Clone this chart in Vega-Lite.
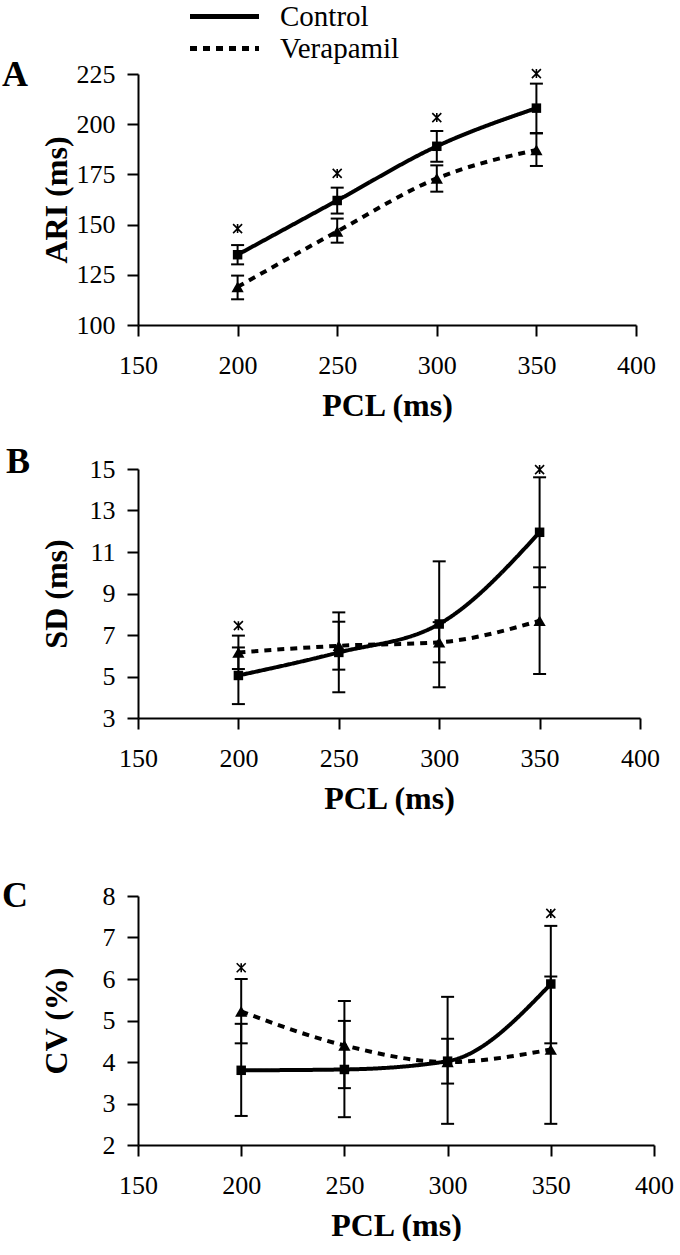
{
  "$schema": "https://vega.github.io/schema/vega-lite/v6.json",
  "background": "white",
  "padding": {"left": 2, "top": 2, "right": 0, "bottom": 0},
  "spacing": 23,
  "config": {
    "view": {"stroke": null},
    "font": "Liberation Serif",
    "text": {"font": "Liberation Serif"},
    "axis": {
      "grid": false,
      "domainColor": "black",
      "domainWidth": 2,
      "tickColor": "black",
      "tickWidth": 2,
      "tickSize": 11,
      "labelFont": "Liberation Serif",
      "labelFontSize": 26,
      "labelColor": "black",
      "titleFont": "Liberation Serif",
      "titleFontSize": 32,
      "titleFontWeight": "bold",
      "titleColor": "black"
    },
    "axisX": {"labelPadding": 16, "titlePadding": 12, "labelFlush": false, "labelOverlap": false},
    "axisY": {"labelPadding": 12},
    "legend": {"labelFont": "Liberation Serif"},
    "title": {"font": "Liberation Serif", "fontSize": 36, "fontWeight": "bold", "color": "black"}
  },
  "datasets": {
    "ari": [
      {"pcl": 200, "series": "Control", "mean": 135, "lo": 130.2, "hi": 139.8},
      {"pcl": 250, "series": "Control", "mean": 162, "lo": 155.5, "hi": 168.4},
      {"pcl": 300, "series": "Control", "mean": 189, "lo": 181.3, "hi": 196.6},
      {"pcl": 350, "series": "Control", "mean": 208, "lo": 195.6, "hi": 220.2},
      {"pcl": 200, "series": "Verapamil", "mean": 119, "lo": 112.8, "hi": 124.6},
      {"pcl": 250, "series": "Verapamil", "mean": 146.6, "lo": 141, "hi": 153},
      {"pcl": 300, "series": "Verapamil", "mean": 173, "lo": 166.4, "hi": 179.5},
      {"pcl": 350, "series": "Verapamil", "mean": 187.2, "lo": 179.2, "hi": 195.4}
    ],
    "ari_sig": [
      {"pcl": 200, "sig": 148},
      {"pcl": 250, "sig": 175.5},
      {"pcl": 300, "sig": 203.3},
      {"pcl": 350, "sig": 225.2}
    ],
    "sd": [
      {"pcl": 200, "series": "Control", "mean": 5.05, "lo": 3.67, "hi": 6.4},
      {"pcl": 250, "series": "Control", "mean": 6.16, "lo": 4.24, "hi": 8.09},
      {"pcl": 300, "series": "Control", "mean": 7.53, "lo": 4.48, "hi": 10.55},
      {"pcl": 350, "series": "Control", "mean": 11.95, "lo": 9.3, "hi": 14.6},
      {"pcl": 200, "series": "Verapamil", "mean": 6.16, "lo": 5.36, "hi": 6.97},
      {"pcl": 250, "series": "Verapamil", "mean": 6.48, "lo": 5.33, "hi": 7.64},
      {"pcl": 300, "series": "Verapamil", "mean": 6.65, "lo": 5.68, "hi": 7.62},
      {"pcl": 350, "series": "Verapamil", "mean": 7.69, "lo": 5.12, "hi": 10.26}
    ],
    "sd_sig": [
      {"pcl": 200, "sig": 7.45},
      {"pcl": 350, "sig": 14.97}
    ],
    "cv": [
      {"pcl": 200, "series": "Control", "mean": 3.8, "lo": 2.7, "hi": 4.92},
      {"pcl": 250, "series": "Control", "mean": 3.82, "lo": 2.67, "hi": 4.99},
      {"pcl": 300, "series": "Control", "mean": 4.02, "lo": 2.51, "hi": 5.57},
      {"pcl": 350, "series": "Control", "mean": 5.88, "lo": 4.45, "hi": 7.28},
      {"pcl": 200, "series": "Verapamil", "mean": 5.22, "lo": 4.45, "hi": 6.0},
      {"pcl": 250, "series": "Verapamil", "mean": 4.4, "lo": 3.37, "hi": 5.47},
      {"pcl": 300, "series": "Verapamil", "mean": 4.0, "lo": 3.48, "hi": 4.56},
      {"pcl": 350, "series": "Verapamil", "mean": 4.3, "lo": 2.51, "hi": 6.06}
    ],
    "cv_sig": [
      {"pcl": 200, "sig": 6.27},
      {"pcl": 350, "sig": 7.58}
    ]
  },
  "resolve": {"scale": {"strokeDash": "independent"}, "legend": {"strokeDash": "independent"}},
  "vconcat": [
    {
      "width": 498,
      "height": 251,
      "title": {"text": "A", "orient": "left", "frame": "group", "anchor": "end", "angle": 0, "baseline": "middle", "offset": -14, "dy": 1},
      "layer": [
        {
          "data": {"name": "ari"},
          "mark": {"type": "line", "interpolate": "monotone", "strokeWidth": 4, "color": "black"},
          "encoding": {
            "x": {"field": "pcl", "type": "quantitative", "title": "PCL (ms)", "scale": {"domain": [150, 400], "nice": false, "zero": false}, "axis": {"values": [150, 200, 250, 300, 350, 400]}},
            "y": {"field": "mean", "type": "quantitative", "title": "ARI (ms)", "scale": {"domain": [100, 225], "nice": false, "zero": false}, "axis": {"values": [100, 125, 150, 175, 200, 225], "titlePadding": 3}},
            "strokeDash": {"field": "series", "type": "nominal", "scale": {"domain": ["Control", "Verapamil"], "range": [[1, 0], [7, 6]]},
              "legend": {"title": null, "orient": "none", "legendX": 72, "legendY": -72, "symbolType": "M-3,0H3", "symbolSize": 529, "symbolStrokeWidth": 5, "symbolStrokeColor": "black", "symbolFillColor": "transparent", "labelFont": "Liberation Serif", "labelFontSize": 29, "labelColor": "black", "labelOffset": 41, "rowPadding": 2}}
          }
        },
        {
          "data": {"name": "ari"},
          "mark": {"type": "rule", "color": "black", "strokeWidth": 2},
          "encoding": {
            "x": {"field": "pcl", "type": "quantitative", "title": "PCL (ms)"},
            "y": {"field": "lo", "type": "quantitative", "title": "ARI (ms)"},
            "y2": {"field": "hi"}
          }
        },
        {
          "data": {"name": "ari"},
          "mark": {"type": "tick", "orient": "horizontal", "color": "black", "thickness": 2, "size": 13, "opacity": 1},
          "encoding": {
            "x": {"field": "pcl", "type": "quantitative", "title": "PCL (ms)"},
            "y": {"field": "lo", "type": "quantitative", "title": "ARI (ms)"}
          }
        },
        {
          "data": {"name": "ari"},
          "mark": {"type": "tick", "orient": "horizontal", "color": "black", "thickness": 2, "size": 13, "opacity": 1},
          "encoding": {
            "x": {"field": "pcl", "type": "quantitative", "title": "PCL (ms)"},
            "y": {"field": "hi", "type": "quantitative", "title": "ARI (ms)"}
          }
        },
        {
          "data": {"name": "ari"},
          "transform": [{"filter": "datum.series === 'Control'"}],
          "mark": {"type": "point", "shape": "square", "filled": true, "color": "black", "opacity": 1, "size": 90},
          "encoding": {
            "x": {"field": "pcl", "type": "quantitative", "title": "PCL (ms)"},
            "y": {"field": "mean", "type": "quantitative", "title": "ARI (ms)"}
          }
        },
        {
          "data": {"name": "ari"},
          "transform": [{"filter": "datum.series === 'Verapamil'"}],
          "mark": {"type": "point", "shape": "triangle-up", "filled": true, "color": "black", "opacity": 1, "size": 150},
          "encoding": {
            "x": {"field": "pcl", "type": "quantitative", "title": "PCL (ms)"},
            "y": {"field": "mean", "type": "quantitative", "title": "ARI (ms)"}
          }
        },
        {
          "data": {"name": "ari_sig"},
          "mark": {"type": "point", "shape": "M-1,-1L1,1M-1,1L1,-1M0,-1L0,1", "filled": false, "stroke": "black", "strokeWidth": 1.6, "size": 81, "opacity": 1},
          "encoding": {
            "x": {"field": "pcl", "type": "quantitative", "title": "PCL (ms)"},
            "y": {"field": "sig", "type": "quantitative", "title": "ARI (ms)"}
          }
        }
      ]
    },
    {
      "spacing": 64,
      "vconcat": [
        {
          "width": 502,
          "height": 249,
          "title": {"text": "B", "orient": "left", "frame": "group", "anchor": "end", "angle": 0, "baseline": "middle", "offset": -14, "dy": -7},
          "layer": [
            {
              "data": {"name": "sd"},
              "mark": {"type": "line", "interpolate": "monotone", "strokeWidth": 4, "color": "black"},
              "encoding": {
                "x": {"field": "pcl", "type": "quantitative", "title": "PCL (ms)", "scale": {"domain": [150, 400], "nice": false, "zero": false}, "axis": {"values": [150, 200, 250, 300, 350, 400]}},
                "y": {"field": "mean", "type": "quantitative", "title": "SD (ms)", "scale": {"domain": [3, 15], "nice": false, "zero": false}, "axis": {"values": [3, 5, 7, 9, 11, 13, 15], "titlePadding": 16}},
                "strokeDash": {"field": "series", "type": "nominal", "scale": {"domain": ["Control", "Verapamil"], "range": [[1, 0], [7, 6]]}, "legend": null}
              }
            },
            {
              "data": {"name": "sd"},
              "mark": {"type": "rule", "color": "black", "strokeWidth": 2},
              "encoding": {
                "x": {"field": "pcl", "type": "quantitative", "title": "PCL (ms)"},
                "y": {"field": "lo", "type": "quantitative", "title": "SD (ms)"},
                "y2": {"field": "hi"}
              }
            },
            {
              "data": {"name": "sd"},
              "mark": {"type": "tick", "orient": "horizontal", "color": "black", "thickness": 2, "size": 13, "opacity": 1},
              "encoding": {
                "x": {"field": "pcl", "type": "quantitative", "title": "PCL (ms)"},
                "y": {"field": "lo", "type": "quantitative", "title": "SD (ms)"}
              }
            },
            {
              "data": {"name": "sd"},
              "mark": {"type": "tick", "orient": "horizontal", "color": "black", "thickness": 2, "size": 13, "opacity": 1},
              "encoding": {
                "x": {"field": "pcl", "type": "quantitative", "title": "PCL (ms)"},
                "y": {"field": "hi", "type": "quantitative", "title": "SD (ms)"}
              }
            },
            {
              "data": {"name": "sd"},
              "transform": [{"filter": "datum.series === 'Control'"}],
              "mark": {"type": "point", "shape": "square", "filled": true, "color": "black", "opacity": 1, "size": 90},
              "encoding": {
                "x": {"field": "pcl", "type": "quantitative", "title": "PCL (ms)"},
                "y": {"field": "mean", "type": "quantitative", "title": "SD (ms)"}
              }
            },
            {
              "data": {"name": "sd"},
              "transform": [{"filter": "datum.series === 'Verapamil'"}],
              "mark": {"type": "point", "shape": "triangle-up", "filled": true, "color": "black", "opacity": 1, "size": 150},
              "encoding": {
                "x": {"field": "pcl", "type": "quantitative", "title": "PCL (ms)"},
                "y": {"field": "mean", "type": "quantitative", "title": "SD (ms)"}
              }
            },
            {
              "data": {"name": "sd_sig"},
              "mark": {"type": "point", "shape": "M-1,-1L1,1M-1,1L1,-1M0,-1L0,1", "filled": false, "stroke": "black", "strokeWidth": 1.6, "size": 81, "opacity": 1},
              "encoding": {
                "x": {"field": "pcl", "type": "quantitative", "title": "PCL (ms)"},
                "y": {"field": "sig", "type": "quantitative", "title": "SD (ms)"}
              }
            }
          ]
        },
        {
          "width": 516,
          "height": 249,
          "title": {"text": "C", "orient": "left", "frame": "group", "anchor": "end", "angle": 0, "baseline": "middle", "offset": -14, "dy": 0},
          "layer": [
            {
              "data": {"name": "cv"},
              "mark": {"type": "line", "interpolate": "monotone", "strokeWidth": 4, "color": "black"},
              "encoding": {
                "x": {"field": "pcl", "type": "quantitative", "title": "PCL (ms)", "scale": {"domain": [150, 400], "nice": false, "zero": false}, "axis": {"values": [150, 200, 250, 300, 350, 400]}},
                "y": {"field": "mean", "type": "quantitative", "title": "CV (%)", "scale": {"domain": [2, 8], "nice": false, "zero": false}, "axis": {"values": [2, 3, 4, 5, 6, 7, 8], "titlePadding": 29}},
                "strokeDash": {"field": "series", "type": "nominal", "scale": {"domain": ["Control", "Verapamil"], "range": [[1, 0], [7, 6]]}, "legend": null}
              }
            },
            {
              "data": {"name": "cv"},
              "mark": {"type": "rule", "color": "black", "strokeWidth": 2},
              "encoding": {
                "x": {"field": "pcl", "type": "quantitative", "title": "PCL (ms)"},
                "y": {"field": "lo", "type": "quantitative", "title": "CV (%)"},
                "y2": {"field": "hi"}
              }
            },
            {
              "data": {"name": "cv"},
              "mark": {"type": "tick", "orient": "horizontal", "color": "black", "thickness": 2, "size": 13, "opacity": 1},
              "encoding": {
                "x": {"field": "pcl", "type": "quantitative", "title": "PCL (ms)"},
                "y": {"field": "lo", "type": "quantitative", "title": "CV (%)"}
              }
            },
            {
              "data": {"name": "cv"},
              "mark": {"type": "tick", "orient": "horizontal", "color": "black", "thickness": 2, "size": 13, "opacity": 1},
              "encoding": {
                "x": {"field": "pcl", "type": "quantitative", "title": "PCL (ms)"},
                "y": {"field": "hi", "type": "quantitative", "title": "CV (%)"}
              }
            },
            {
              "data": {"name": "cv"},
              "transform": [{"filter": "datum.series === 'Control'"}],
              "mark": {"type": "point", "shape": "square", "filled": true, "color": "black", "opacity": 1, "size": 90},
              "encoding": {
                "x": {"field": "pcl", "type": "quantitative", "title": "PCL (ms)"},
                "y": {"field": "mean", "type": "quantitative", "title": "CV (%)"}
              }
            },
            {
              "data": {"name": "cv"},
              "transform": [{"filter": "datum.series === 'Verapamil'"}],
              "mark": {"type": "point", "shape": "triangle-up", "filled": true, "color": "black", "opacity": 1, "size": 150},
              "encoding": {
                "x": {"field": "pcl", "type": "quantitative", "title": "PCL (ms)"},
                "y": {"field": "mean", "type": "quantitative", "title": "CV (%)"}
              }
            },
            {
              "data": {"name": "cv_sig"},
              "mark": {"type": "point", "shape": "M-1,-1L1,1M-1,1L1,-1M0,-1L0,1", "filled": false, "stroke": "black", "strokeWidth": 1.6, "size": 81, "opacity": 1},
              "encoding": {
                "x": {"field": "pcl", "type": "quantitative", "title": "PCL (ms)"},
                "y": {"field": "sig", "type": "quantitative", "title": "CV (%)"}
              }
            }
          ]
        }
      ]
    }
  ]
}
